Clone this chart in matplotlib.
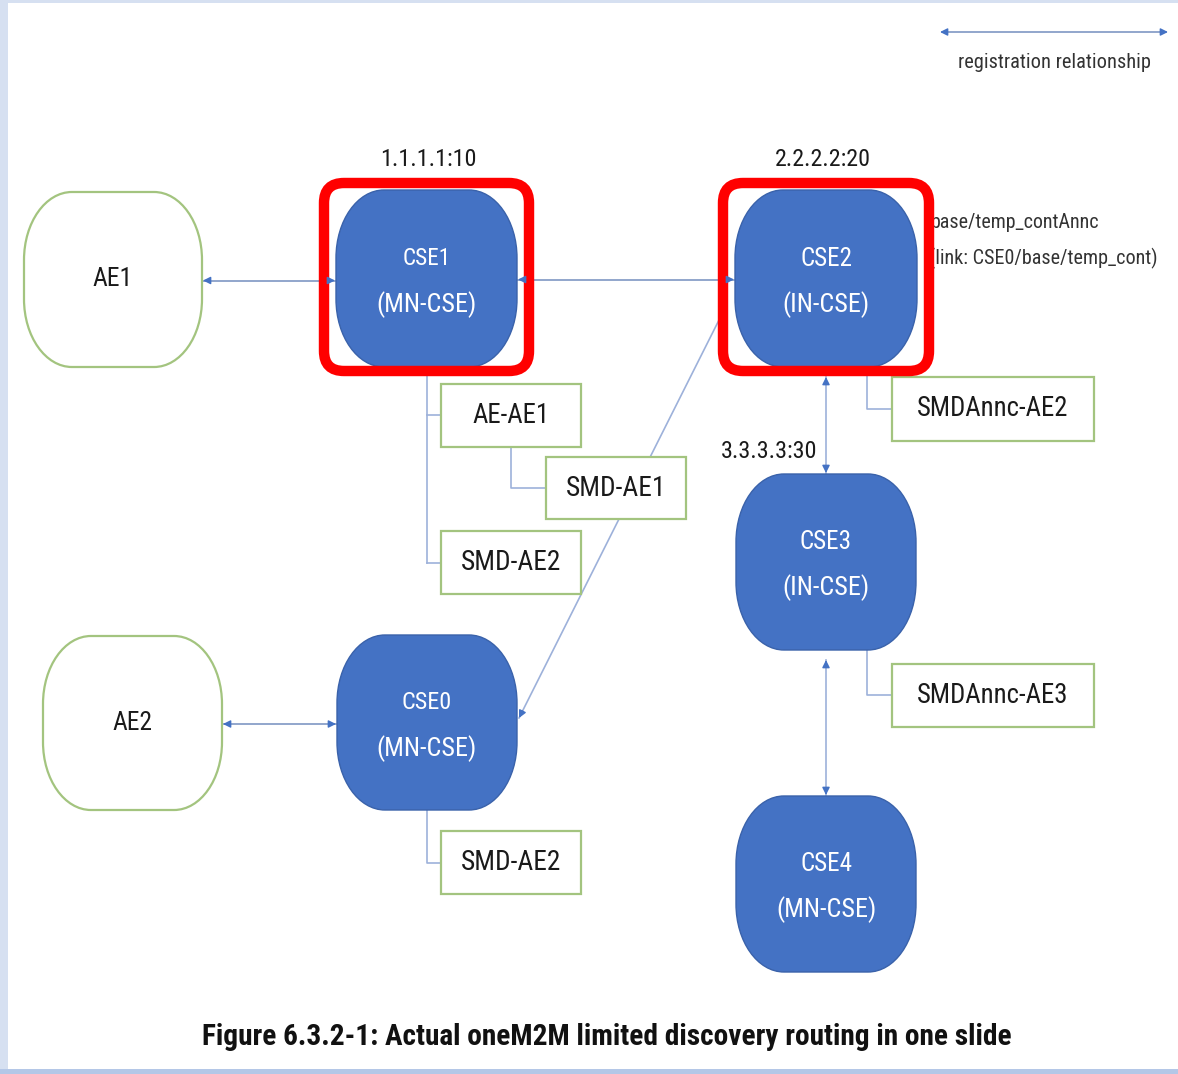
import matplotlib
matplotlib.use("Agg")
import matplotlib.pyplot as plt
from matplotlib.patches import FancyBboxPatch, Rectangle, PathPatch
from matplotlib.path import Path
from matplotlib import font_manager

# ---------------- data ----------------
node_names = ["AE1", "CSE1", "CSE2", "AE2", "CSE0", "CSE3", "CSE4"]
node_roles = ["", "(MN-CSE)", "(IN-CSE)", "", "(MN-CSE)", "(IN-CSE)", "(MN-CSE)"]
node_kinds = ["ae", "cse", "cse", "ae", "cse", "cse", "cse"]
addr_labels = ["1.1.1.1:10", "2.2.2.2:20", "3.3.3.3:30"]
resource_labels = ["AE-AE1", "SMD-AE1", "SMD-AE2", "SMDAnnc-AE2", "SMDAnnc-AE3", "SMD-AE2"]
annc_lines = ["base/temp_contAnnc", "(link: CSE0/base/temp_cont)"]
legend_label = "registration relationship"
caption = "Figure 6.3.2-1: Actual oneM2M limited discovery routing in one slide"
highlighted = ["CSE1", "CSE2"]
registrations = [("AE1", "CSE1"), ("CSE1", "CSE2"), ("AE2", "CSE0"),
                 ("CSE2", "CSE3"), ("CSE3", "CSE4")]

# ---------------- layout (pixels) ----------------
node_box = {  # x0, y0, x1, y1
    "AE1": (24, 192, 202, 367),
    "CSE1": (336, 190, 517, 367),
    "CSE2": (735, 190, 917, 367),
    "AE2": (43, 636, 222, 810),
    "CSE0": (337, 635, 517, 810),
    "CSE3": (736, 474, 916, 650),
    "CSE4": (736, 796, 916, 972),
}
res_box = [(441, 384, 581, 447), (546, 457, 686, 519), (441, 531, 581, 594),
           (892, 377, 1094, 441), (892, 664, 1094, 727), (441, 831, 581, 894)]
res_w = [77, 100, 100, 151, 151, 100]
addr_pos = [(428, 160, 96), (823, 160, 96), (769, 452, 97)]
name_w = {"AE1": 40, "AE2": 40, "CSE1": 48, "CSE2": 52, "CSE0": 50, "CSE3": 52, "CSE4": 52}
role_w = {"(MN-CSE)": 100, "(IN-CSE)": 87}

W, H = 1178, 1074
BLUE = "#4472c4"
LINK = "#7f97c4"
THIN = "#9db1da"
GREEN = "#a3c47f"

avail = {f.name for f in font_manager.fontManager.ttflist}
FONT = "DejaVu Sans"
for cand in ["Roboto Condensed", "Liberation Sans Narrow", "Open Sans Condensed", "Liberation Sans"]:
    if cand in avail:
        FONT = cand
        break

fig = plt.figure(figsize=(W / 100, H / 100), dpi=100)
ax = fig.add_axes([0, 0, 1, 1])
ax.set_xlim(0, W)
ax.set_ylim(H, 0)
ax.axis("off")
renderer = fig.canvas.get_renderer()

# page border strips
ax.add_patch(Rectangle((0, 0), 8, H, color="#d6e0f1", lw=0, zorder=0))
ax.add_patch(Rectangle((0, 0), W, 2.5, color="#d6e0f1", lw=0, zorder=0))
ax.add_patch(Rectangle((0, 1069), W, 5, color="#b4c7e7", lw=0, zorder=0))


def fit_text(x, y, s, width, color="#1a1a1a", ha="center", weight="normal", z=5, size0=20):
    t = ax.text(x, y, s, ha=ha, va="center", fontsize=size0, color=color,
                family=[FONT, "DejaVu Sans"], weight=weight, zorder=z)
    bb = t.get_window_extent(renderer)
    t.set_fontsize(size0 * width / bb.width)
    return t


def soft_box(x0, y0, x1, y1, rx, ry):
    k = 0.5523
    verts = [
        (x0 + rx, y0), (x1 - rx, y0),
        (x1 - rx + k * rx, y0), (x1, y0 + ry - k * ry), (x1, y0 + ry),
        (x1, y1 - ry),
        (x1, y1 - ry + k * ry), (x1 - rx + k * rx, y1), (x1 - rx, y1),
        (x0 + rx, y1),
        (x0 + rx - k * rx, y1), (x0, y1 - ry + k * ry), (x0, y1 - ry),
        (x0, y0 + ry),
        (x0, y0 + ry - k * ry), (x0 + rx - k * rx, y0), (x0 + rx, y0),
        (x0 + rx, y0),
    ]
    codes = [Path.MOVETO, Path.LINETO,
             Path.CURVE4, Path.CURVE4, Path.CURVE4,
             Path.LINETO,
             Path.CURVE4, Path.CURVE4, Path.CURVE4,
             Path.LINETO,
             Path.CURVE4, Path.CURVE4, Path.CURVE4,
             Path.LINETO,
             Path.CURVE4, Path.CURVE4, Path.CURVE4,
             Path.CLOSEPOLY]
    return Path(verts, codes)


def center(name):
    x0, y0, x1, y1 = node_box[name]
    return (x0 + x1) / 2, (y0 + y1) / 2


def head(p_from, p_to, color=BLUE):
    ax.annotate("", xy=p_to, xytext=p_from,
                arrowprops=dict(arrowstyle="-|>", color=color, lw=1,
                                mutation_scale=11, shrinkA=0, shrinkB=0), zorder=4.5)


def double_arrow(p, q, line_color):
    ax.plot([p[0], q[0]], [p[1], q[1]], color=line_color, lw=1.2, zorder=1)
    dx, dy = q[0] - p[0], q[1] - p[1]
    L = (dx ** 2 + dy ** 2) ** 0.5
    ux, uy = dx / L, dy / L
    head((p[0] + ux * 7, p[1] + uy * 7), p)
    head((q[0] - ux * 7, q[1] - uy * 7), q)


# registration links
for a, b in registrations:
    ax0, ay0, ax1, ay1 = node_box[a]
    bx0, by0, bx1, by1 = node_box[b]
    ca, cb = center(a), center(b)
    if abs(ca[1] - cb[1]) < 5:  # horizontal
        y = ca[1] + 1
        double_arrow((ax1 + 1, y), (bx0 - 1, y), LINK)
    else:
        x = ca[0]
        double_arrow((x, ay1 + 10), (x, by0 - 1), THIN)

# CSE2 -> CSE0 announcement link
p0 = (719, 320)
p1 = (node_box["CSE0"][2] + 2, 718)
ax.plot([p0[0], p1[0]], [p0[1], p1[1]], color=THIN, lw=1.2, zorder=1)
head((p1[0] + 3.5, p1[1] - 7), p1)

# tree connectors
tree_lines = [
    [(427, 367), (427, 563)], [(427, 415), (441, 415)], [(427, 563), (441, 563)],
    [(511, 447), (511, 488), (546, 488)],
    [(867, 367), (867, 409), (892, 409)],
    [(867, 650), (867, 695), (892, 695)],
    [(427, 810), (427, 863), (441, 863)],
]
for seg in tree_lines:
    ax.plot([p[0] for p in seg], [p[1] for p in seg], color=THIN, lw=1.2, zorder=1)

# nodes
for name, role, kind in zip(node_names, node_roles, node_kinds):
    x0, y0, x1, y1 = node_box[name]
    if kind == "cse":
        fc, ec, lw = BLUE, "#3a62aa", 1.0
    else:
        fc, ec, lw = "white", GREEN, 1.6
    ax.add_patch(PathPatch(soft_box(x0, y0, x1, y1, 48, 68),
                           fc=fc, ec=ec, lw=lw, zorder=2))
    cx, cy = center(name)
    if kind == "cse":
        fit_text(cx, cy - 20, name, name_w[name], color="white")
        fit_text(cx, cy + 26, role, role_w[role], color="white")
    else:
        fit_text(cx, cy, name, name_w[name])

# resource boxes
for (x0, y0, x1, y1), lab, w in zip(res_box, resource_labels, res_w):
    ax.add_patch(Rectangle((x0, y0), x1 - x0, y1 - y0, fc="white", ec=GREEN, lw=1.6, zorder=2))
    fit_text((x0 + x1) / 2, (y0 + y1) / 2, lab, w)

# address labels
for (x, y, w), lab in zip(addr_pos, addr_labels):
    fit_text(x, y, lab, w)

# announcement text (partly hidden by highlight)
fit_text(931, 222, annc_lines[0], 169, ha="left", z=1.5, color="#333333")
fit_text(929, 258, annc_lines[1], 228, ha="left", z=1.5, color="#333333")

# highlight rectangles
for name in highlighted:
    x0, y0, x1, y1 = node_box[name]
    ax.add_patch(FancyBboxPatch((x0 - 12, y0 - 7), (x1 - x0) + 24, (y1 - y0) + 11,
                                boxstyle="round,pad=0,rounding_size=20",
                                fc="none", ec="#ff0000", lw=7.5, zorder=4))

# legend
ax.plot([945, 1163], [32, 32], color=LINK, lw=1.2, zorder=1)
head((947, 32), (940, 32))
head((1161, 32), (1168, 32))
fit_text(1054, 63, legend_label, 192, color="#333333")

# caption
fit_text(607, 1037, caption, 809, weight="bold", color="#111111")

fig.savefig("out.png", dpi=100)
